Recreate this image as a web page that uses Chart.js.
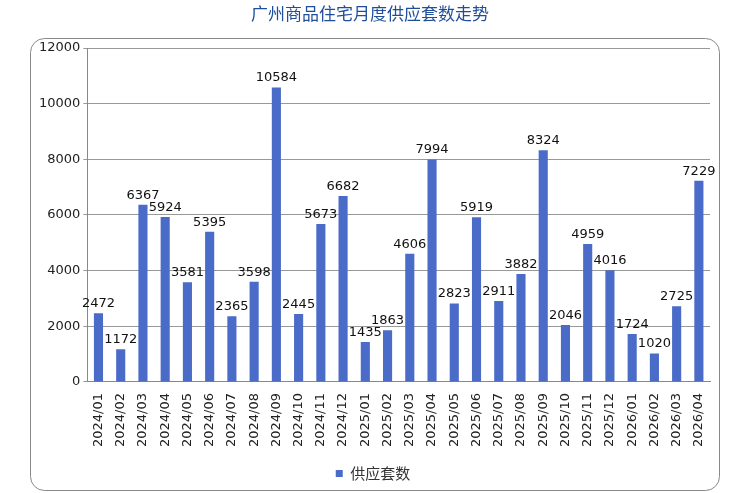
<!DOCTYPE html>
<html><head><meta charset="utf-8">
<script src="https://cdn.jsdelivr.net/npm/chart.js@4"></script>
<style>body{margin:0;background:#fff}</style>
</head><body>
<canvas id="myChart" width="740" height="493"></canvas>
<script>
const months = ['2024/01','2024/02','2024/03','2024/04','2024/05','2024/06','2024/07','2024/08','2024/09','2024/10','2024/11','2024/12',
  '2025/01','2025/02','2025/03','2025/04','2025/05','2025/06','2025/07','2025/08','2025/09','2025/10','2025/11','2025/12',
  '2026/01','2026/02','2026/03','2026/04'];
const supply = [2472,1172,6367,5924,3581,5395,2365,3598,10584,2445,5673,6682,
  1435,1863,4606,7994,2823,5919,2911,3882,8324,2046,4959,4016,1724,1020,2725,7229];
const titleText = '广州商品住宅月度供应套数走势';
const seriesName = '供应套数';

const FONT = '"Noto Sans CJK SC", "DejaVu Sans", sans-serif';

const decor = {
  id: 'decor',
  beforeDraw(chart) {
    const c = chart.ctx;
    c.save();
    c.fillStyle = '#1F4E9A';
    c.font = '17px ' + FONT;
    c.textAlign = 'center';
    c.textBaseline = 'middle';
    c.fillText(titleText, 370, 14);
    c.strokeStyle = '#888';
    c.lineWidth = 1;
    c.beginPath();
    c.roundRect(30.5, 38.5, 689, 452, 14);
    c.stroke();
    c.restore();
  },
  afterDatasetsDraw(chart) {
    const c = chart.ctx;
    const meta = chart.getDatasetMeta(0);
    c.save();
    c.fillStyle = '#111';
    c.font = '13px "DejaVu Sans", sans-serif';
    c.textAlign = 'center';
    c.textBaseline = 'bottom';
    meta.data.forEach((bar, i) => c.fillText(supply[i], bar.x, bar.y - 3));
    c.restore();
  }
};

new Chart(document.getElementById('myChart'), {
  type: 'bar',
  data: {
    labels: months,
    datasets: [{
      label: seriesName,
      data: supply,
      backgroundColor: '#4A6CC8',
      categoryPercentage: 0.82,
      barPercentage: 0.5
    }]
  },
  options: {
    responsive: false,
    animation: false,
    layout: { padding: { left: 36, right: 30, top: 48, bottom: 2 } },
    plugins: {
      legend: {
        position: 'bottom',
        labels: { boxWidth: 7, boxHeight: 7, color: '#333', font: { size: 15, family: FONT }, padding: 16 }
      },
      tooltip: { enabled: false }
    },
    scales: {
      x: {
        grid: { display: false },
        border: { color: '#888' },
        ticks: { minRotation: 90, maxRotation: 90, color: '#222', font: { size: 13, family: '"DejaVu Sans", sans-serif' } }
      },
      y: {
        min: 0, max: 12000,
        ticks: { stepSize: 2000, color: '#222', font: { size: 13, family: '"DejaVu Sans", sans-serif' },
          callback: v => String(v) },
        grid: { color: '#999', drawTicks: true, tickLength: 4 },
        border: { color: '#888' }
      }
    }
  },
  plugins: [decor]
});
</script>
</body></html>
